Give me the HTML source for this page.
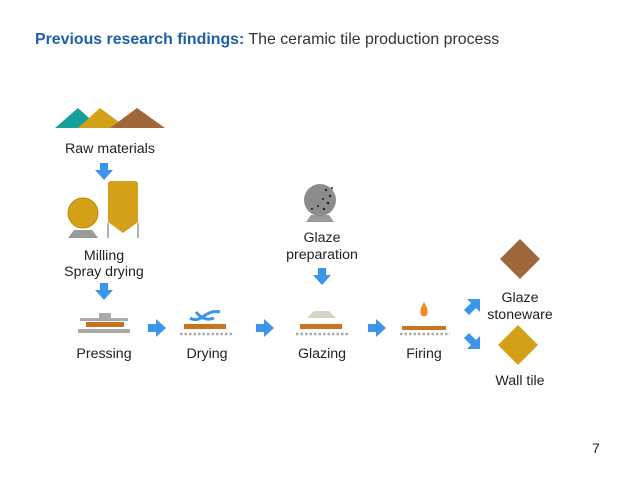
<!DOCTYPE html>
<html><head><style>body{margin:0;background:#fff}svg{display:block}text{font-family:"Liberation Sans",sans-serif;fill:#222;font-size:14.2px}</style></head>
<body>
<svg width="638" height="479" viewBox="0 0 638 479">
<defs>
<g id="ad"><path d="M-4,-9 H4 V-2 H9 L0,8 L-9,-2 H-4Z" fill="#3b95e8"/></g>
</defs>
<text x="35" y="44" style="font-size:15.9px;fill:#333"><tspan style="font-weight:bold;fill:#1f5fa8">Previous research findings:</tspan> The ceramic tile production process</text>
<!-- mountains -->
<polygon points="55,128 78,108 100,128" fill="#17a09a"/>
<polygon points="78,128 100,108 127,128" fill="#d4a017"/>
<polygon points="110,128 137,108 165,128" fill="#a0683a"/>
<text x="110" y="153" text-anchor="middle">Raw materials</text>
<use href="#ad" x="104" y="172"/>
<!-- mill -->
<path d="M68,238 L74,230 H92 L98,238Z" fill="#9a9a9a"/>
<circle cx="83" cy="213" r="15" fill="#d4a017" stroke="#b88a0a"/>
<path d="M108,184 Q108,181 111,181 H135 Q138,181 138,184 V222 L123,233 L108,222Z" fill="#d4a017"/>
<path d="M108,223 V238 M138,223 V238" stroke="#999" stroke-width="1.5"/>
<text x="104" y="260" text-anchor="middle">Milling</text>
<text x="104" y="276" text-anchor="middle">Spray drying</text>
<use href="#ad" x="104" y="292"/>
<!-- pressing -->
<rect x="99" y="313" width="12" height="5" fill="#aaa"/>
<rect x="80" y="318" width="48" height="3" fill="#aaa"/>
<rect x="86" y="322" width="38" height="5" fill="#c8731e"/>
<rect x="78" y="329" width="52" height="4" fill="#aaa"/>
<text x="104" y="358" text-anchor="middle">Pressing</text>
<!-- arrows right -->
<g fill="#3b95e8">
<path d="M148,324 H156 V319 L166,328 L156,337 V332 H148Z"/>
<path d="M256,324 H264 V319 L274,328 L264,337 V332 H256Z"/>
<path d="M368,324 H376 V319 L386,328 L376,337 V332 H368Z"/>
</g>
<g stroke="#aaa" stroke-width="2.5" stroke-dasharray="2.5,2">
<line x1="180" y1="334" x2="232" y2="334"/><line x1="296" y1="334" x2="348" y2="334"/><line x1="400" y1="334" x2="450" y2="334"/>
</g>
<!-- drying -->
<path d="M190,318 Q196,322 204,316 Q212,310 220,312 M196,312 Q204,322 214,318" stroke="#3b95e8" stroke-width="3" fill="none"/>
<rect x="184" y="324" width="42" height="5" fill="#c8731e"/>
<text x="207" y="358" text-anchor="middle">Drying</text>
<!-- glaze prep -->
<path d="M306,222 L311,215 H329 L334,222Z" fill="#9a9a9a"/>
<circle cx="320" cy="200" r="16" fill="#8c8c8c"/>
<g fill="#222"><circle cx="326" cy="190" r="1.2"/><circle cx="330" cy="196" r="1.2"/><circle cx="323" cy="199" r="1"/><circle cx="328" cy="203" r="1.3"/><circle cx="318" cy="206" r="1"/><circle cx="324" cy="209" r="1.2"/><circle cx="312" cy="209" r="1"/><circle cx="332" cy="188" r="1"/></g>
<text x="322" y="242" text-anchor="middle">Glaze</text>
<text x="322" y="259" text-anchor="middle">preparation</text>
<use href="#ad" x="322" y="277"/>
<!-- glazing -->
<path d="M307,318 L314,311 H329 L336,318Z" fill="#d8d2c4"/>
<rect x="300" y="324" width="42" height="5" fill="#c8731e"/>
<text x="322" y="358" text-anchor="middle">Glazing</text>
<!-- firing -->
<path d="M424,302 Q429,310 427,315 Q424,318 421,315 Q419,310 424,302Z" fill="#f08a1c"/>
<rect x="402" y="326" width="44" height="4" fill="#c8731e"/>
<text x="424" y="358" text-anchor="middle">Firing</text>
<!-- diag arrows -->
<g fill="#3b95e8">
<path d="M464,310 L471,303 L467,299 H480 V312 L476,308 L469,315Z"/>
<path d="M464,338 L469,333 L476,340 L480,336 V349 H467 L471,345Z"/>
</g>
<polygon points="520,239 540,259 520,279 500,259" fill="#a0683a"/>
<text x="520" y="302" text-anchor="middle">Glaze</text>
<text x="520" y="319" text-anchor="middle">stoneware</text>
<polygon points="518,325 538,345 518,365 498,345" fill="#d4a017"/>
<text x="520" y="385" text-anchor="middle">Wall tile</text>
<text x="592" y="453" style="font-size:14px">7</text>
</svg>
</body></html>
